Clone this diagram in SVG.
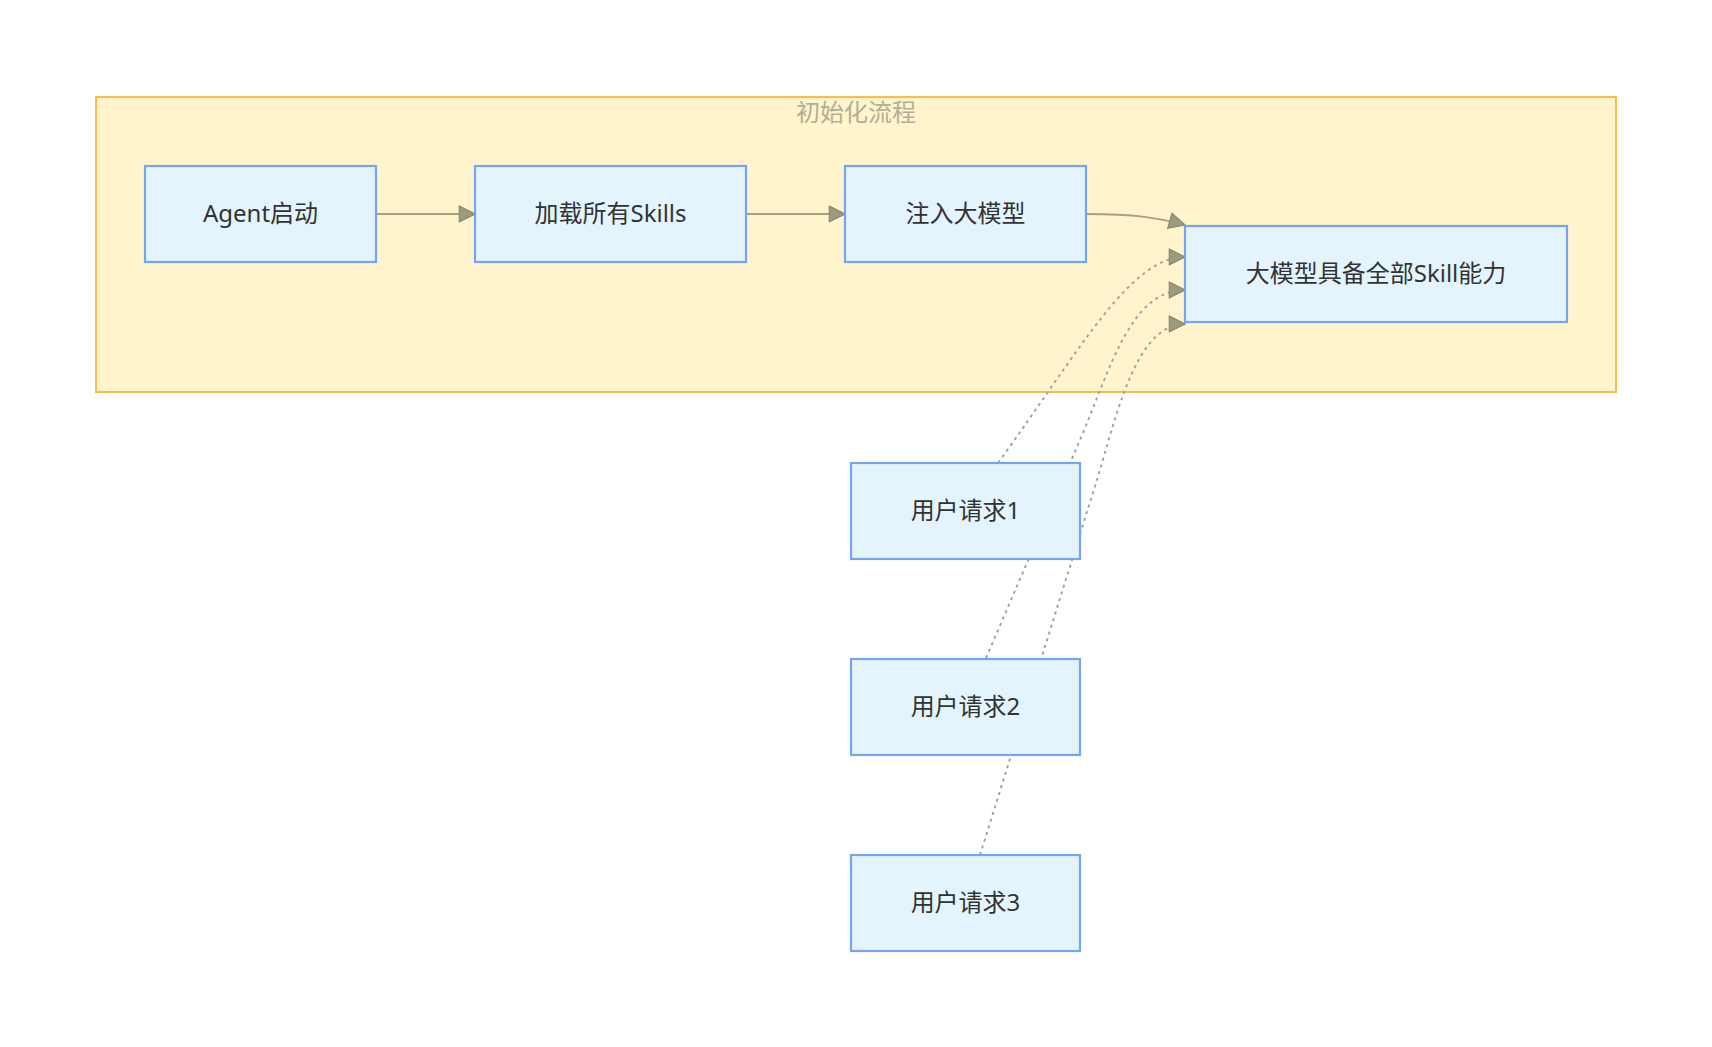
<svg xmlns="http://www.w3.org/2000/svg" width="1712" height="1047" viewBox="0 0 1712 1047">
<style>
.node rect{fill:#e3f4fd;stroke:#74a3f7;stroke-width:2.2}
.node text{font-family:"Noto Sans","Noto Sans CJK SC",sans-serif;font-size:24px;fill:#333;text-anchor:middle}
.edge{fill:none;stroke:#a6a186;stroke-width:2}
.dash{fill:none;stroke:#a3a3a3;stroke-width:2;stroke-dasharray:3 4}
.title{font-family:"Noto Sans","Noto Sans CJK SC",sans-serif;font-size:24px;fill:#b3ae96;text-anchor:middle}
</style>
<defs>
<marker id="arr" markerUnits="userSpaceOnUse" markerWidth="18" markerHeight="18" viewBox="0 0 16 16" refX="15" refY="8" orient="auto">
<path d="M1,1 L15,8 L1,15 Z" fill="#9e9a7e" stroke="#8a8670" stroke-width="1"/>
</marker>
</defs>
<g id="cluster-init">
<rect x="96" y="97" width="1520" height="295" fill="#fff4cc" stroke="#fbbb4d" stroke-width="2"/>
<text class="title" x="856" y="121">初始化流程</text>
</g>
<g id="connectors">
<path class="edge" d="M376,214 L475,214" marker-end="url(#arr)"/>
<path class="edge" d="M746,214 L845,214" marker-end="url(#arr)"/>
<path class="edge" d="M1086,214 C1135,214 1160,218 1185,225" marker-end="url(#arr)"/>
<path class="dash" d="M998,463 C1080,350 1130,257 1185,257" marker-end="url(#arr)"/>
<path class="dash" d="M986,658 L1080,440 C1110,370 1130,290 1185,290" marker-end="url(#arr)"/>
<path class="dash" d="M980,855 L1100,470 C1120,400 1140,324 1185,324" marker-end="url(#arr)"/>
</g>
<g id="node-agent" class="node"><rect x="145" y="166" width="231" height="96"/><text x="260.5" y="222">Agent启动</text></g>
<g id="node-load" class="node"><rect x="475" y="166" width="271" height="96"/><text x="610.5" y="222">加载所有Skills</text></g>
<g id="node-inject" class="node"><rect x="845" y="166" width="241" height="96"/><text x="965.5" y="222">注入大模型</text></g>
<g id="node-llm" class="node"><rect x="1185" y="226" width="382" height="96"/><text x="1376" y="282">大模型具备全部Skill能力</text></g>
<g id="node-req1" class="node"><rect x="851" y="463" width="229" height="96"/><text x="965.5" y="519">用户请求1</text></g>
<g id="node-req2" class="node"><rect x="851" y="659" width="229" height="96"/><text x="965.5" y="715">用户请求2</text></g>
<g id="node-req3" class="node"><rect x="851" y="855" width="229" height="96"/><text x="965.5" y="911">用户请求3</text></g>
</svg>
